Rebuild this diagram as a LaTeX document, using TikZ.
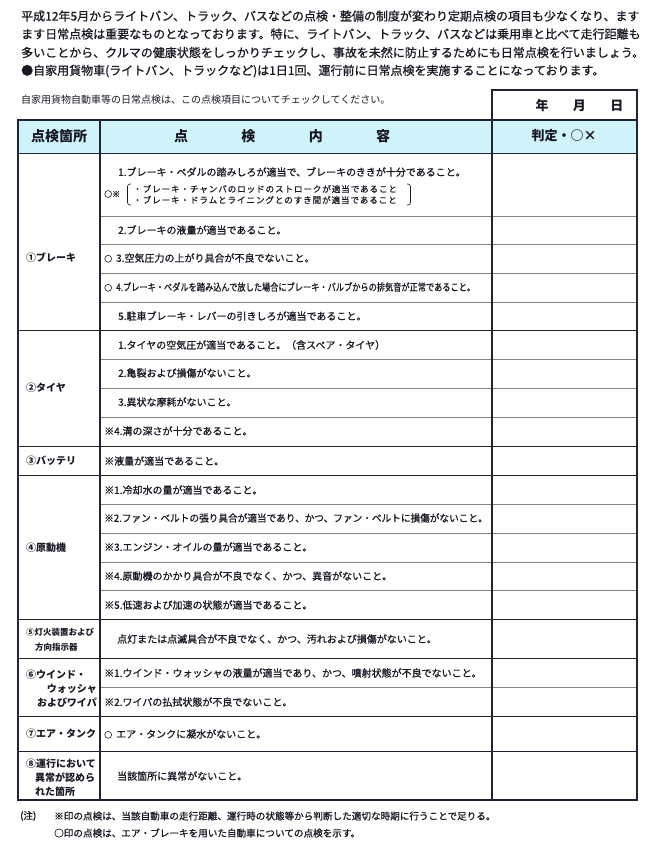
\documentclass[tikz,border=0pt]{standalone}
\usepackage{fontspec}
\usepackage{graphicx}
\setmainfont{Noto Sans CJK JP}
\newfontfamily\jpmed{Noto Sans CJK JP}[FakeBold=0.9]
\newfontfamily\jpsub{Noto Sans CJK JP}[FakeBold=0.5, LetterSpace=10]
\newcommand\smallring{{\fontsize{8}{9}\selectfont ○}\hspace{4pt}}
\usetikzlibrary{positioning}

\begin{document}
\begin{tikzpicture}[x=1pt, y=-1pt,
    inner sep=0pt,%
    frame/.style={draw=framecol, line width=1.2pt},
    group/.style={draw=framecol, line width=0.8pt},
    rowline/.style={draw=rowcol, line width=0.6pt},
    intro/.style={anchor=west, text=inkcol, font=\jpmed\fontsize{12}{14}\selectfont},
    caption/.style={anchor=west, text=inkcol, font=\fontsize{10}{12}\selectfont},
    head/.style={text=inkcol, font=\bfseries\fontsize{14}{16}\selectfont},
    place/.style={anchor=west, text=inkcol, font=\bfseries\fontsize{10}{12}\selectfont},
    item/.style={anchor=west, text=inkcol, font=\jpmed\fontsize{10}{12}\selectfont},
    subitem/.style={anchor=west, text=inkcol, font=\jpsub\fontsize{8.6}{9}\selectfont},
    note/.style={anchor=west, text=inkcol, font=\jpmed\fontsize{9.6}{12}\selectfont},
]
    % Colors
    \definecolor{inkcol}{RGB}{25,25,35}
    \definecolor{framecol}{RGB}{35,35,50}
    \definecolor{rowcol}{RGB}{130,130,135}
    \definecolor{headcyan}{RGB}{208,243,250}

    \useasboundingbox (0,0) rectangle (653,841);

    % Intro text
    \node[intro] (intro1) at (21,16) {平成12年5月からライトバン、トラック、バスなどの点検・整備の制度が変わり定期点検の項目も少なくなり、ます};
    \node[intro] (intro2) at (21,34) {ます日常点検は重要なものとなっております。特に、ライトバン、トラック、バスなどは乗用車と比べて走行距離も};
    \node[intro] (intro3) at (21,52.5) {多いことから、クルマの健康状態をしっかりチェックし、事故を未然に防止するためにも日常点検を行いましょう。};
    \node[intro] (intro4) at (21,71) {●自家用貨物車(ライトバン、トラックなど)は1日1回、運行前に日常点検を実施することになっております。};
    \node[caption] (caption) at (21,100) {自家用貨物自動車等の日常点検は、この点検項目についてチェックしてください。};

    % Frame
    \fill[headcyan] (18,120) rectangle (637,153);
    \draw[frame] (492,120) |- (637,90) -- (637,120);
    \foreach \y in {216,244,273,302,359,388,417,504,533,562,590,687}
        \draw[rowline] (100,\y) -- (637,\y);
    \foreach \y in {153,330,446,475,619,658,716,751}
        \draw[group] (18,\y) -- (637,\y);
    \draw[frame] (18,120) rectangle (637,800);
    \draw[frame] (100,120) -- (100,800) (492,120) -- (492,800);

    % Date and header
    \node[head, font=\bfseries\fontsize{13}{15}\selectfont] (yearY) at (542,106) {年};
    \node[head, font=\bfseries\fontsize{13}{15}\selectfont, right=24pt of yearY] (yearM) {月};
    \node[head, font=\bfseries\fontsize{13}{15}\selectfont, right=24pt of yearM] (yearD) {日};
    \node[head] (hPlace) at (59,136) {点検箇所};
    \node[head] (hCont1) at (181,136) {点};
    \node[head, right=53pt of hCont1] (hCont2) {検};
    \node[head, right=53pt of hCont2] (hCont3) {内};
    \node[head, right=53pt of hCont3] (hCont4) {容};
    \node[head, font=\bfseries\fontsize{13}{15}\selectfont] (hJudge) at (564,136) {判定・○×};

    % Places
    \node[place] (place1) at (26,258) {①ブレーキ};
    \node[place] (place2) at (26,388) {②タイヤ};
    \node[place] (place3) at (26,461) {③バッテリ};
    \node[place] (place4) at (26,548) {④原動機};
    \node[place, font=\bfseries\fontsize{8.5}{10}\selectfont] (place5a) at (26,632) {⑤灯火装置および};
    \node[place, font=\bfseries\fontsize{8.5}{10}\selectfont] (place5b) at (35,647) {方向指示器};
    \node[place] (place6a) at (26,675) {⑥ウインド・};
    \node[place, anchor=east] (place6b) at (97,689) {ウォッシャ};
    \node[place, anchor=east] (place6c) at (97,703) {およびワイパ};
    \node[place] (place7) at (26,734) {⑦エア・タンク};
    \node[place] (place8a) at (26,764) {⑧運行において};
    \node[place] (place8b) at (35,778) {異常が認めら};
    \node[place] (place8c) at (35,792) {れた箇所};

    % Brake
    \node[item] (brake1) at (118,172) {1.ブレーキ・ペダルの踏みしろが適当で、ブレーキのききが十分であること。};
    \node[item, font=\jpmed\fontsize{8}{9}\selectfont] (brake1m) at (104,194) {○※};
    \node[subitem] (brake1a) at (133,189) {・ブレーキ・チャンバのロッドのストロークが適当であること};
    \node[subitem] (brake1b) at (133,200) {・ブレーキ・ドラムとライニングとのすき間が適当であること};
    \draw[inkcol, line width=0.6pt, rounded corners=2.5pt]
        (131,184) -| (127.5,205) -- (131,205)
        (407,184) -| (410.5,205) -- (407,205);
    \node[item] (brake2) at (118,230) {2.ブレーキの液量が適当であること。};
    \node[item] (brake3) at (104,258) {\smallring 3.空気圧力の上がり具合が不良でないこと。};
    \node[item] (brake4) at (104,287) {\smallring\scalebox{0.82}[1]{4.ブレーキ・ペダルを踏み込んで放した場合にブレーキ・バルブからの排気音が正常であること。}};
    \node[item] (brake5) at (118,316) {5.駐車ブレーキ・レバーの引きしろが適当であること。};

    % Tire and battery
    \node[item] (tire1) at (118,345) {1.タイヤの空気圧が適当であること。（含スペア・タイヤ）};
    \node[item] (tire2) at (118,373) {2.亀裂および損傷がないこと。};
    \node[item] (tire3) at (118,402) {3.異状な摩耗がないこと。};
    \node[item] (tire4) at (104,431) {※4.溝の深さが十分であること。};
    \node[item] (battery) at (104,461) {※液量が適当であること。};

    % Engine
    \foreach \y/\t [count=\i] in {490/{※1.冷却水の量が適当であること。},
            518/{\scalebox{0.965}[1]{※2.ファン・ベルトの張り具合が適当であり、かつ、ファン・ベルトに損傷がないこと。}},
            547/{※3.エンジン・オイルの量が適当であること。},
            576/{※4.原動機のかかり具合が不良でなく、かつ、異音がないこと。},
            605/{※5.低速および加速の状態が適当であること。}}
        \node[item] (engine\i) at (104,\y) {\t};

    % Lights, washer, air tank, others
    \node[item] (light) at (117,639) {点灯または点滅具合が不良でなく、かつ、汚れおよび損傷がないこと。};
    \node[item] (wash1) at (104,673) {※1.ウインド・ウォッシャの液量が適当であり、かつ、噴射状態が不良でないこと。};
    \node[item] (wash2) at (104,702) {※2.ワイパの払拭状態が不良でないこと。};
    \node[item] (tank) at (104,734) {\smallring エア・タンクに凝水がないこと。};
    \node[item] (other) at (117,776) {当該箇所に異常がないこと。};

    % Notes
    \node[note] (noteMark) at (20,816) {(注)};
    \node[note] (note1) at (54,816) {※印の点検は、当該自動車の走行距離、運行時の状態等から判断した適切な時期に行うことで足りる。};
    \node[note] (note2) at (54,833) {○印の点検は、エア・ブレーキを用いた自動車についての点検を示す。};
\end{tikzpicture}
\end{document}
